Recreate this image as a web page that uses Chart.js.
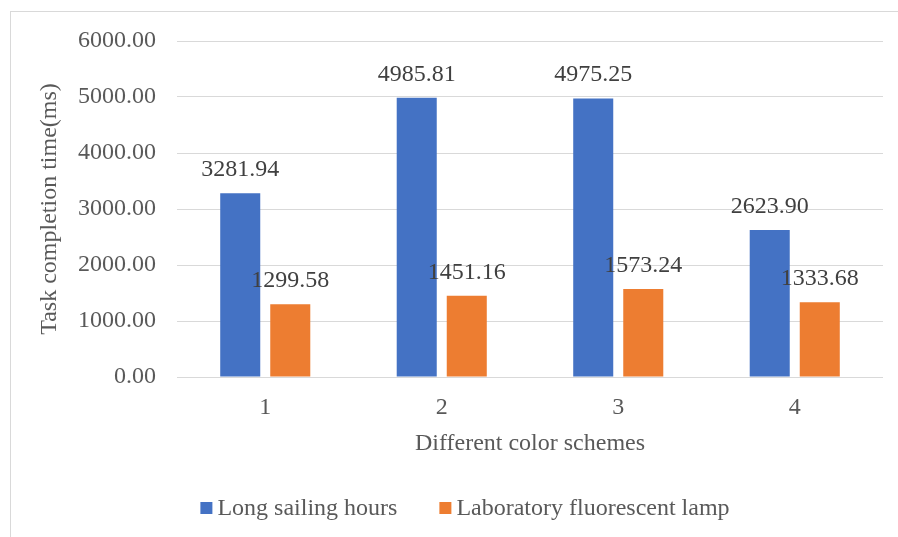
<!DOCTYPE html>
<html>
<head>
<meta charset="utf-8">
<script src="https://cdn.jsdelivr.net/npm/chart.js@4/dist/chart.umd.min.js"></script>
<style>
  html, body { margin: 0; padding: 0; background: #fff; overflow: hidden; }
  #frame {
    position: absolute; left: 10px; top: 11px;
    width: 1000px; height: 1000px;
    border: 1px solid #d9d9d9;
  }
  #wrap { position: absolute; left: 0; top: 0; width: 898px; height: 537px; }
</style>
</head>
<body>
<div id="frame"></div>
<div id="wrap"><canvas id="chart" width="898" height="537"></canvas></div>
<script>
// Task completion time per color scheme
const categories = ["1", "2", "3", "4"];
const sailingHours = [3281.94, 4985.81, 4975.25, 2623.90];
const fluorescentLamp = [1299.58, 1451.16, 1573.24, 1333.68];
const seriesNames = ["Long sailing hours", "Laboratory fluorescent lamp"];
const yTicks = [0, 1000, 2000, 3000, 4000, 5000, 6000];

const FONT = "'Liberation Serif', 'Times New Roman', serif";
const TEXT = "#595959";

// value labels above each bar
const barLabels = {
  id: "barLabels",
  afterDatasetsDraw(chart) {
    const ctx = chart.ctx;
    ctx.save();
    ctx.font = "24px " + FONT;
    ctx.fillStyle = "#404040";
    ctx.textAlign = "center";
    ctx.textBaseline = "alphabetic";
    chart.data.datasets.forEach((ds, i) => {
      chart.getDatasetMeta(i).data.forEach((bar, j) => {
        ctx.fillText(ds.data[j].toFixed(2), bar.x, bar.y - 17);
      });
    });
    ctx.restore();
  },
};

// legend drawn below the axis title
const bottomLegend = {
  id: "bottomLegend",
  afterDraw(chart) {
    const ctx = chart.ctx;
    ctx.save();
    ctx.font = "24px " + FONT;
    const box = 12, gap = 5, itemGap = 42;
    const items = chart.data.datasets.map((ds) => ({
      label: ds.label,
      color: ds.backgroundColor,
      w: box + gap + ctx.measureText(ds.label).width,
    }));
    const total = items.reduce((s, it) => s + it.w, 0) + itemGap * (items.length - 1);
    let x = 465 - total / 2;
    const y = 508;
    items.forEach((it) => {
      ctx.fillStyle = it.color;
      ctx.fillRect(x, y - box / 2, box, box);
      ctx.fillStyle = TEXT;
      ctx.textAlign = "left";
      ctx.textBaseline = "middle";
      ctx.fillText(it.label, x + box + gap, y + 1);
      x += it.w + itemGap;
    });
    ctx.restore();
  },
};

new Chart(document.getElementById("chart"), {
  type: "bar",
  data: {
    labels: categories,
    datasets: [
      {
        label: seriesNames[0],
        data: sailingHours,
        backgroundColor: "#4472c4",
        categoryPercentage: 0.567,
        barPercentage: 0.8,
      },
      {
        label: seriesNames[1],
        data: fluorescentLamp,
        backgroundColor: "#ed7d31",
        categoryPercentage: 0.567,
        barPercentage: 0.8,
      },
    ],
  },
  options: {
    responsive: false,
    animation: false,
    layout: { padding: { left: 0, top: 41, right: 15, bottom: 70 } },
    plugins: {
      legend: { display: false },
      tooltip: { enabled: false },
    },
    scales: {
      x: {
        grid: { display: false },
        border: { display: false },
        ticks: { color: TEXT, font: { family: FONT, size: 24 }, padding: 8 },
        title: {
          display: true,
          text: "Different color schemes",
          color: TEXT,
          font: { family: FONT, size: 24 },
          padding: { top: 0, bottom: 9 },
        },
        afterFit(scale) { scale.height = 90; },
      },
      y: {
        min: 0,
        max: 6000,
        afterBuildTicks(scale) { scale.ticks = yTicks.map((v) => ({ value: v })); },
        grid: { color: "#d9d9d9", lineWidth: 1, drawTicks: false },
        border: { display: false },
        ticks: {
          color: TEXT,
          font: { family: FONT, size: 24 },
          padding: 21,
          callback: (v) => Number(v).toFixed(2),
        },
        title: {
          display: true,
          text: "Task completion time(ms)",
          color: TEXT,
          font: { family: FONT, size: 24 },
          padding: { top: 35, bottom: 0 },
        },
        afterFit(scale) { scale.width = 177; },
      },
    },
  },
  plugins: [barLabels, bottomLegend],
});
</script>
</body>
</html>
